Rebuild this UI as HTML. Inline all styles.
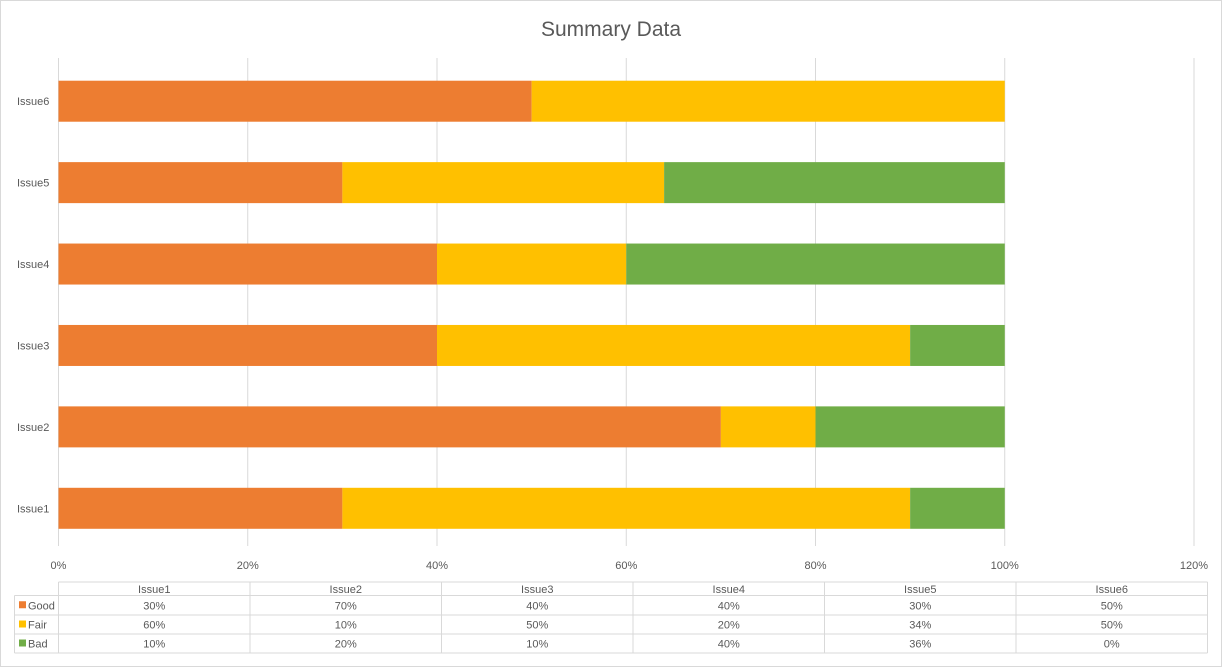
<!DOCTYPE html>
<html><head><meta charset="utf-8"><style>
body{margin:0;background:#fff;}
svg{display:block;font-family:"Liberation Sans",sans-serif;}
</style></head><body>
<svg id="c" width="1223" height="668">
<rect x="0.5" y="0.5" width="1221" height="666" fill="#fff" stroke="#d9d9d9"/>
<text x="611" y="36" text-anchor="middle" font-size="21" fill="#595959">Summary Data</text>
<g id="grid"></g><g id="bars"></g><g id="labels"></g><g id="table"></g>
</svg>
<script>
const categories=["Issue1","Issue2","Issue3","Issue4","Issue5","Issue6"];
const seriesNames=["Good","Fair","Bad"];
const good=[30,70,40,40,30,50];
const fair=[60,10,50,20,34,50];
const bad=[10,20,10,40,36,0];
const colors=["#ed7d31","#ffc000","#70ad47"];
const ticks=[0,20,40,60,80,100,120];
const NS="http://www.w3.org/2000/svg";
const x0=58.5,x120=1194,yTop=60.5,yBot=549;
const xs=v=>x0+(x120-x0)*v/120;
const band=(yBot-yTop)/categories.length;
const yc=i=>yBot-band*(i+0.5);
function mk(t,a,p){const e=document.createElementNS(NS,t);for(const k in a)e.setAttribute(k,a[k]);p.appendChild(e);return e;}
const grid=document.getElementById('grid'),bars=document.getElementById('bars'),labels=document.getElementById('labels'),table=document.getElementById('table');
ticks.forEach(t=>{
 const l=mk('line',{x1:xs(t),x2:xs(t),y1:58,y2:546,stroke:'#d9d9d9'},grid);
 
 
 const tx=mk('text',{x:xs(t),y:569,'text-anchor':'middle','font-size':11,fill:'#595959'},labels);
 tx.textContent=t+'%';
 
 
});
const series=[good,fair,bad];
categories.forEach((c,i)=>{
 let acc=0;
 series.forEach((s,j)=>{
  const r=mk('rect',{x:xs(acc),y:yc(i)-20.5,width:xs(acc+s[i])-xs(acc),height:41,fill:colors[j]},bars);
  
  
  acc+=s[i];
 });
 const t=mk('text',{x:17,y:yc(i)+4,'font-size':11,fill:'#595959'},labels);
 t.textContent=c;
 
 
});
const tL=58.5,tR=1207.5,colW=(tR-tL)/6,rows=[582,595.5,615,634,653];
const st='#d9d9d9';
mk('line',{x1:tL,x2:tR,y1:rows[0],y2:rows[0],stroke:st},table);
for(let r=1;r<5;r++)mk('line',{x1:14.5,x2:tR,y1:rows[r],y2:rows[r],stroke:st},table);
mk('line',{x1:14.5,x2:14.5,y1:rows[1],y2:rows[4],stroke:st},table);
for(let k=0;k<=6;k++)mk('line',{x1:tL+colW*k,x2:tL+colW*k,y1:rows[0],y2:rows[4],stroke:st},table);
categories.forEach((c,i)=>{
 const t=mk('text',{x:tL+colW*(i+0.5),y:593,'text-anchor':'middle','font-size':11,fill:'#595959'},table);
 t.textContent=c;
 
 
});
series.forEach((s,j)=>{
 const cy=(rows[j+1]+rows[j+2])/2;
 const sw=mk('rect',{x:19,y:cy-4,width:7,height:7,fill:colors[j]},table);
 
 
 const n=mk('text',{x:28,y:cy+4,'font-size':11,fill:'#595959'},table);
 n.textContent=seriesNames[j];
 
 
 s.forEach((v,i)=>{
  const t=mk('text',{x:tL+colW*(i+0.5),y:cy+4,'text-anchor':'middle','font-size':11,fill:'#595959'},table);
  t.textContent=v+'%';
  
  
 });
});
</script>
</body></html>
